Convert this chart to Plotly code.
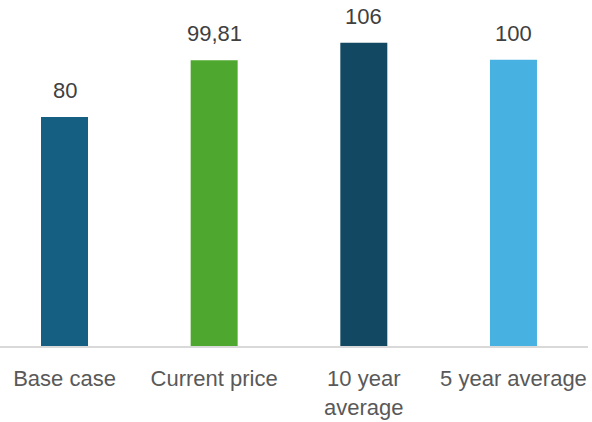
import plotly.graph_objects as go

categories = ["Base case", "Current price", "10 year<br>average", "5 year average"]
values = [80, 99.81, 106, 100]
colors = ["#156082", "#4EA72E", "#124862", "#47B1E1"]
value_labels = [f"{v:g}".replace(".", ",") for v in values]

fig = go.Figure()
fig.add_trace(go.Bar(
    x=categories,
    y=values,
    marker=dict(color=colors, line=dict(width=0)),
    width=0.314,
    showlegend=False,
    hoverinfo="skip",
))

for c, v, t in zip(categories, values, value_labels):
    fig.add_annotation(
        x=c, y=v, text=t, showarrow=False,
        yanchor="bottom", yshift=12,
        font=dict(family="Liberation Sans, Arial, sans-serif", size=22, color="#404040"),
    )

fig.update_layout(
    width=592, height=422,
    margin=dict(l=0, r=4, t=0, b=76),
    paper_bgcolor="white",
    plot_bgcolor="white",
    font=dict(family="Liberation Sans, Arial, sans-serif", size=22, color="#595959"),
    xaxis=dict(
        range=[-0.431, 3.498],
        showgrid=False,
        zeroline=False,
        showline=True,
        linecolor="#D9D9D9",
        linewidth=2,
        ticks="",
        ticklabelstandoff=12,
        tickfont=dict(size=22, color="#595959"),
    ),
    yaxis=dict(
        range=[0, 120.9],
        visible=False,
        showgrid=False,
        zeroline=False,
    ),
)

fig.write_html(
    "out.html",
    config={"displayModeBar": False},
    post_script="document.body.style.margin='0';document.body.style.padding='0';",
)
